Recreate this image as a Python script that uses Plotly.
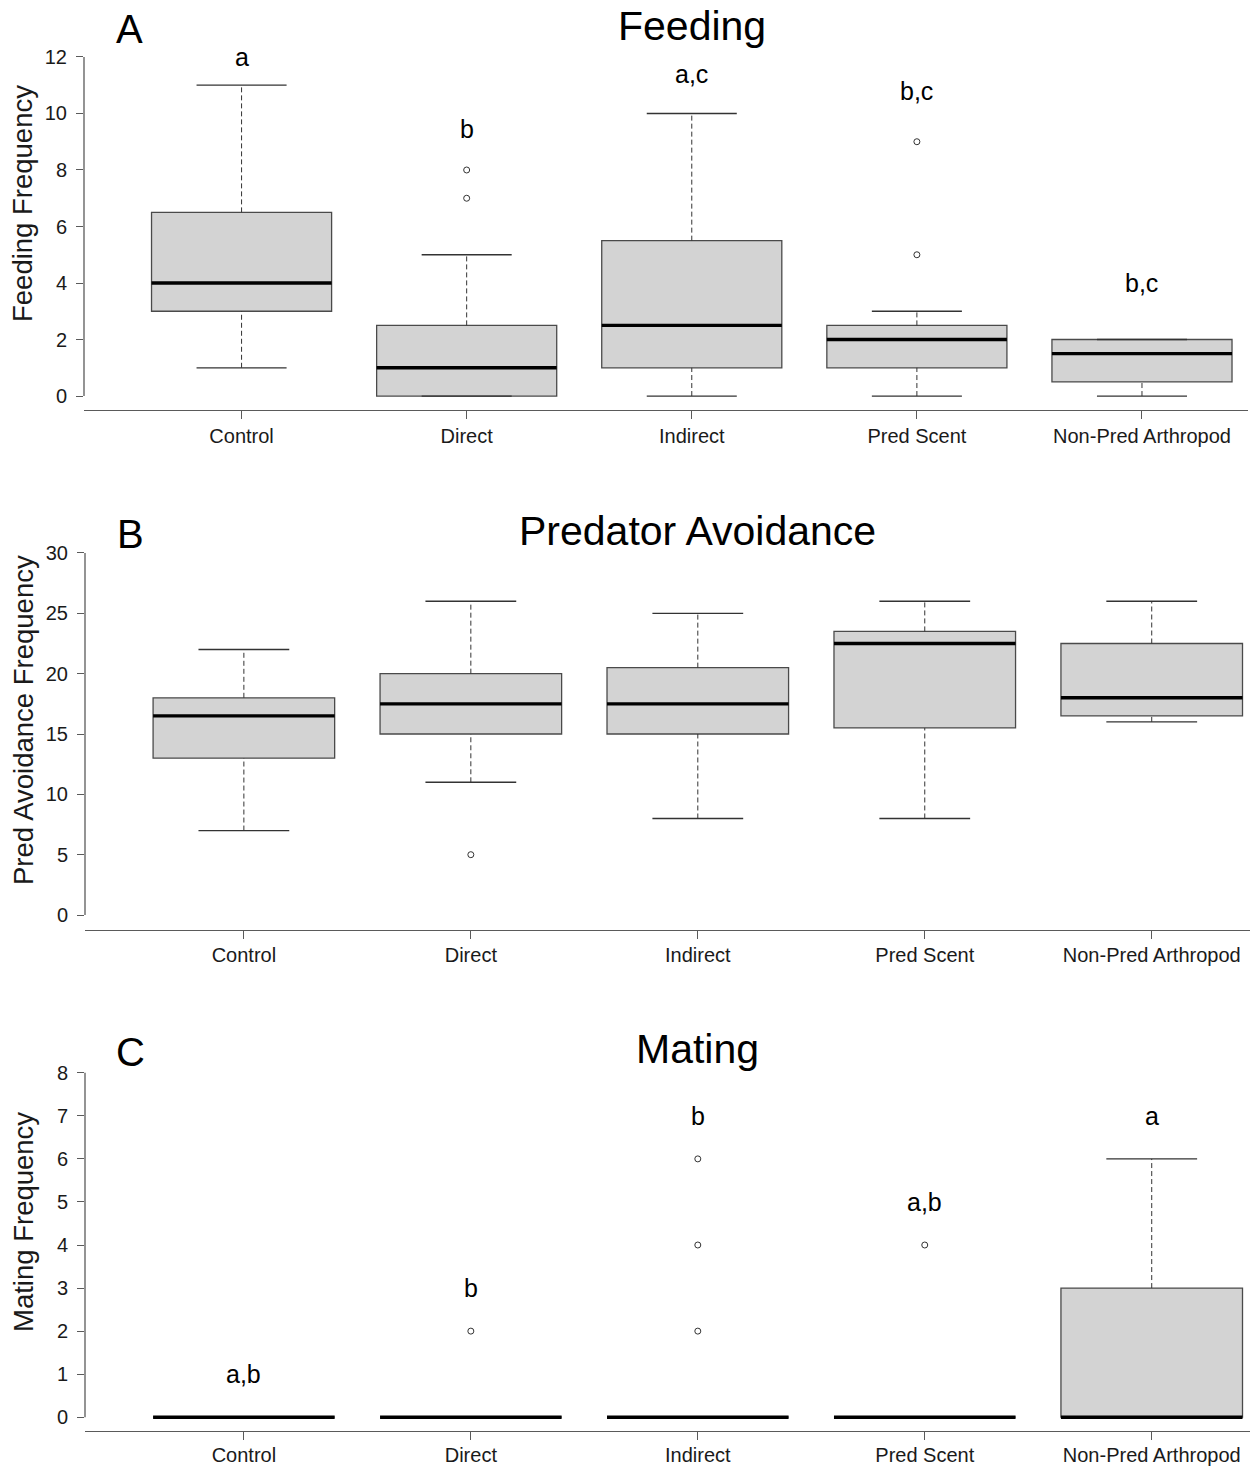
import plotly.graph_objects as go

# ---------------- data ----------------
categories = ["Control", "Direct", "Indirect", "Pred Scent", "Non-Pred Arthropod"]

# Panel A - Feeding
feed_lower = [1, 0, 0, 0, 0]
feed_q1 = [3, 0, 1, 1, 0.5]
feed_median = [4, 1, 2.5, 2, 1.5]
feed_q3 = [6.5, 2.5, 5.5, 2.5, 2]
feed_upper = [11, 5, 10, 3, 2]
feed_outliers = [[], [7, 8], [], [5, 9], []]
feed_letters = ["a", "b", "a,c", "b,c", "b,c"]
feed_letter_y = [12, 9.45, 11.4, 10.8, 4.0]
feed_ticks = [0, 2, 4, 6, 8, 10, 12]

# Panel B - Predator Avoidance
pa_lower = [7, 11, 8, 8, 16]
pa_q1 = [13, 15, 15, 15.5, 16.5]
pa_median = [16.5, 17.5, 17.5, 22.5, 18]
pa_q3 = [18, 20, 20.5, 23.5, 22.5]
pa_upper = [22, 26, 25, 26, 26]
pa_outliers = [[], [5], [], [], []]
pa_letters = ["", "", "", "", ""]
pa_letter_y = [0, 0, 0, 0, 0]
pa_ticks = [0, 5, 10, 15, 20, 25, 30]

# Panel C - Mating
mate_lower = [0, 0, 0, 0, 0]
mate_q1 = [0, 0, 0, 0, 0]
mate_median = [0, 0, 0, 0, 0]
mate_q3 = [0, 0, 0, 0, 3]
mate_upper = [0, 0, 0, 0, 6]
mate_outliers = [[], [2], [2, 4, 6], [4], []]
mate_letters = ["a,b", "b", "b", "a,b", "a"]
mate_letter_y = [1, 3, 7, 5, 7]
mate_ticks = [0, 1, 2, 3, 4, 5, 6, 7, 8]

panel_titles = ["Feeding", "Predator Avoidance", "Mating"]
panel_tags = ["A", "B", "C"]
y_titles = ["Feeding Frequency", "Pred Avoidance Frequency", "Mating Frequency"]

# ---------------- styling / geometry ----------------
W, H = 1256, 1466
FONT = "Liberation Sans, Arial, Helvetica, sans-serif"
BOX_FILL = "#D3D3D3"
EDGE = "#4a4a4a"
AXIS_COL = "#5a5a5a"
TEXT_COL = "#1a1a1a"
BOXW = 0.8
CAPW = 0.4

# pixel geometry of each panel: (left, right, top, bottom), x-range, y-range,
# title centre y px, y-title centre y px, x tick-label standoff
geom = [
    dict(l=84, r=1248, t=43.4, b=409.6, xr=[0.3, 5.471], yr=[-0.48, 12.48], ty=26, yt=204, xs=0),
    dict(l=85, r=1250, t=538.5, b=929.5, xr=[0.3, 5.433], yr=[-1.2, 31.2], ty=531, yt=720, xs=-1),
    dict(l=85, r=1250, t=1059, b=1431, xr=[0.3, 5.433], yr=[-0.32, 8.32], ty=1049, yt=1222, xs=-2),
]

panels = [
    (feed_lower, feed_q1, feed_median, feed_q3, feed_upper, feed_outliers, feed_letters, feed_letter_y, feed_ticks),
    (pa_lower, pa_q1, pa_median, pa_q3, pa_upper, pa_outliers, pa_letters, pa_letter_y, pa_ticks),
    (mate_lower, mate_q1, mate_median, mate_q3, mate_upper, mate_outliers, mate_letters, mate_letter_y, mate_ticks),
]

fig = go.Figure()
annotations = []
shapes = []
pos = list(range(1, len(categories) + 1))


def py(px):
    return 1 - px / H


for k, (lo, q1, med, q3, hi, outs, letters, letter_y, ticks) in enumerate(panels):
    sfx = "" if k == 0 else str(k + 1)
    xa, ya = "x" + sfx, "y" + sfx

    # boxes
    fig.add_trace(go.Bar(
        x=pos, base=q1, y=[b - a for a, b in zip(q1, q3)], width=BOXW,
        marker=dict(color=BOX_FILL, line=dict(color=EDGE, width=1.3)),
        xaxis=xa, yaxis=ya, showlegend=False, hoverinfo="skip"))

    # whiskers (dashed)
    wx, wy = [], []
    for p, a, b, c, d in zip(pos, lo, q1, q3, hi):
        wx += [p, p, None, p, p, None]
        wy += [a, b, None, c, d, None]
    fig.add_trace(go.Scatter(x=wx, y=wy, mode="lines",
                             line=dict(color="#333333", width=1, dash="5px,3px"),
                             xaxis=xa, yaxis=ya, showlegend=False, hoverinfo="skip"))

    # whisker caps
    cx, cy = [], []
    for p, a, d in zip(pos, lo, hi):
        cx += [p - CAPW / 2, p + CAPW / 2, None, p - CAPW / 2, p + CAPW / 2, None]
        cy += [a, a, None, d, d, None]
    fig.add_trace(go.Scatter(x=cx, y=cy, mode="lines",
                             line=dict(color="#333333", width=1.3),
                             xaxis=xa, yaxis=ya, showlegend=False, hoverinfo="skip"))

    # medians
    mx, my = [], []
    for p, m in zip(pos, med):
        mx += [p - BOXW / 2, p + BOXW / 2, None]
        my += [m, m, None]
    fig.add_trace(go.Scatter(x=mx, y=my, mode="lines",
                             line=dict(color="black", width=3.4),
                             xaxis=xa, yaxis=ya, showlegend=False, hoverinfo="skip"))

    # outliers
    ox, oy = [], []
    for p, o in zip(pos, outs):
        ox += [p] * len(o)
        oy += list(o)
    fig.add_trace(go.Scatter(x=ox, y=oy, mode="markers",
                             marker=dict(symbol="circle-open", size=6, color="#333333",
                                         line=dict(width=1, color="#333333")),
                             xaxis=xa, yaxis=ya, showlegend=False, hoverinfo="skip"))

    g = geom[k]
    fig.update_layout(**{
        ("xaxis" + sfx): dict(
            domain=[g["l"] / W, g["r"] / W], range=g["xr"], anchor=ya,
            tickmode="array", tickvals=pos, ticktext=categories,
            ticks="outside", ticklen=8, tickwidth=1.2, tickcolor=AXIS_COL,
            ticklabelstandoff=g["xs"],
            showline=True, linecolor=AXIS_COL, linewidth=1.3,
            showgrid=False, zeroline=False, automargin=False,
            tickfont=dict(family=FONT, size=20, color=TEXT_COL),
        ),
        ("yaxis" + sfx): dict(
            domain=[py(g["b"]), py(g["t"])], range=g["yr"], anchor=xa,
            tickmode="array", tickvals=ticks,
            ticks="outside", ticklen=7, tickwidth=1.2, tickcolor=AXIS_COL,
            ticklabelstandoff=5,
            showline=False, showgrid=False, zeroline=False, automargin=False,
            tickfont=dict(family=FONT, size=20, color=TEXT_COL),
        ),
    })

    # y axis line spanning the tick range only
    shapes.append(dict(type="line", xref=xa + " domain", yref=ya,
                       x0=0, x1=0, y0=min(ticks), y1=max(ticks),
                       line=dict(color=AXIS_COL, width=1.3)))

    # significance letters
    for p, t, yv in zip(pos, letters, letter_y):
        if t:
            annotations.append(dict(x=p, y=yv, xref=xa, yref=ya, text=t, showarrow=False,
                                    xanchor="center", yanchor="middle",
                                    font=dict(family=FONT, size=25, color="black")))

    # panel title and tag
    annotations.append(dict(x=3.0, y=py(g["ty"]), xref=xa, yref="paper", text=panel_titles[k],
                            showarrow=False, xanchor="center", yanchor="middle",
                            font=dict(family=FONT, size=41, color="black")))
    annotations.append(dict(x=0.5, y=py(g["ty"] + 3), xref=xa, yref="paper", text=panel_tags[k],
                            showarrow=False, xanchor="center", yanchor="middle",
                            font=dict(family=FONT, size=40, color="black")))
    # y title
    annotations.append(dict(x=23 / W, y=py(g["yt"]), xref="paper", yref="paper", text=y_titles[k],
                            showarrow=False, xanchor="center", yanchor="middle", textangle=-90,
                            font=dict(family=FONT, size=27.5, color=TEXT_COL)))

fig.update_layout(
    width=W, height=H, margin=dict(l=0, r=0, t=0, b=0),
    paper_bgcolor="white", plot_bgcolor="white", template="none",
    showlegend=False, annotations=annotations, shapes=shapes,
)

fig.write_html("out.html")
